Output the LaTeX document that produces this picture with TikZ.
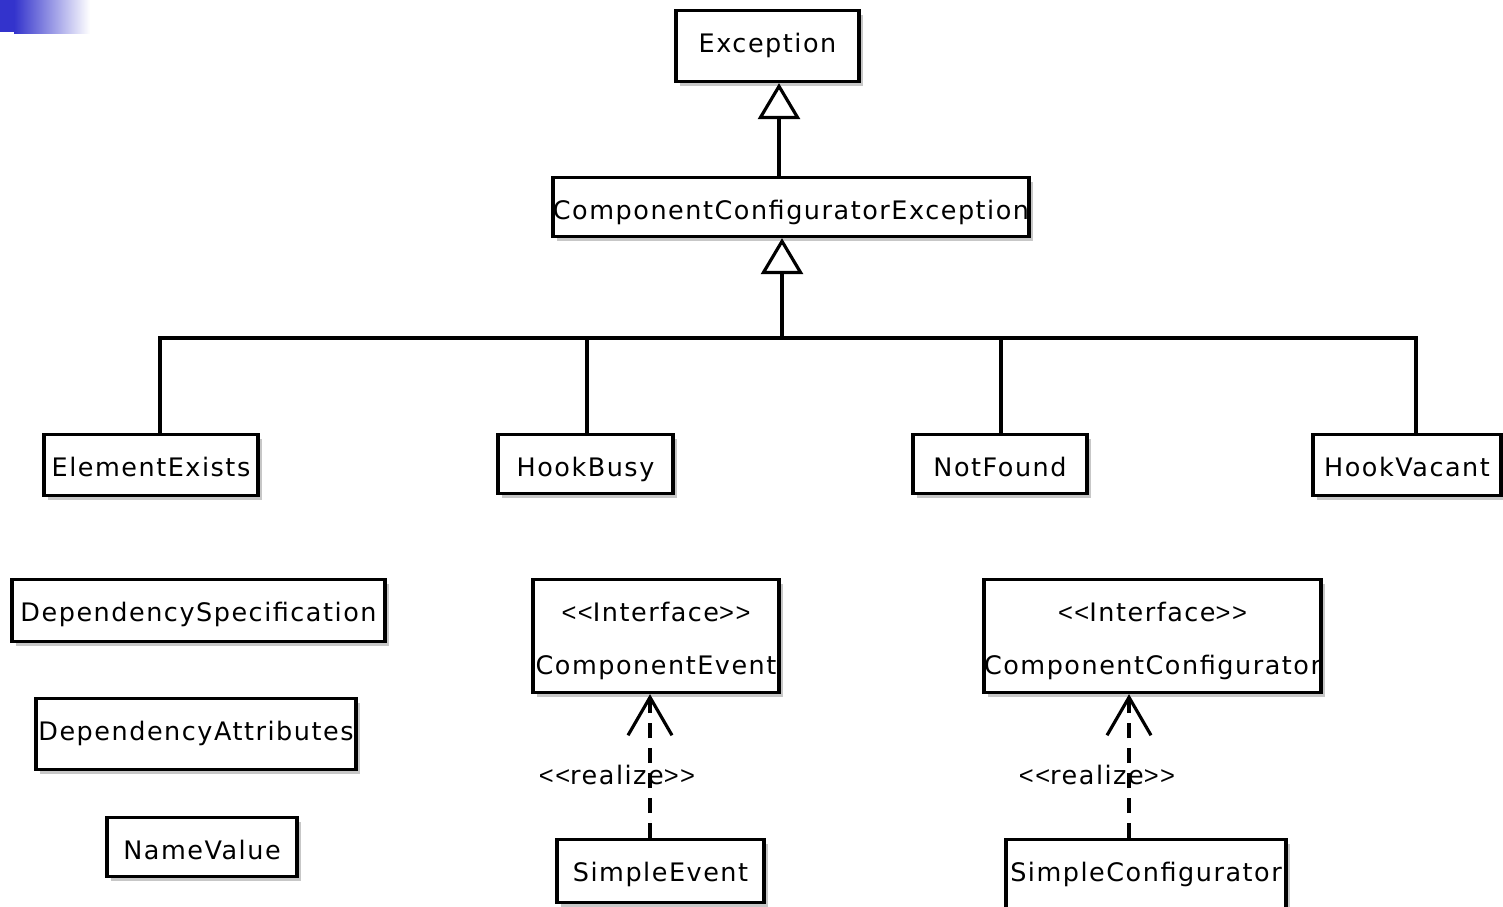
\documentclass[tikz,border=0pt]{standalone}
\usepackage{fontspec}
\newfontfamily\umlfont{DejaVu Sans}[LetterSpace=6]
\newfontfamily\anglefont{Liberation Sans}[LetterSpace=6]
\usetikzlibrary{arrows.meta,shadows}
\definecolor{slideblue}{RGB}{51,51,204}
\newcommand{\stereo}[1]{{\anglefont\textless\textless}#1{\anglefont\textgreater\textgreater}}

\begin{document}
\begin{tikzpicture}[x=0.02cm, y=-0.02cm,
    cls/.style={draw, line width=1.8pt, fill=white, anchor=north, inner xsep=0pt, inner ysep=0pt,
      text height=0.84cm, font=\umlfont\fontsize{14.5}{30}\selectfont,
      drop shadow={shadow xshift=0.08cm, shadow yshift=-0.08cm, fill=black!22, opacity=1}},
    iface/.style={cls, align=center, text height=1.9cm, text depth=0.36cm},
    gen/.style={line width=1.8pt, -{Triangle[open, fill=white, length=0.72cm, width=0.84cm]}},
    real/.style={line width=1.8pt, dash pattern=on 0.3cm off 0.2cm,
      -{Straight Barb[length=0.76cm, width=0.88cm]}},
    stlabel/.style={font=\umlfont\fontsize{14.5}{17}\selectfont, inner sep=0pt}]
  \useasboundingbox (0,0) rectangle (1503,906);

  % slide corner
  \fill[slideblue] (0,0) rectangle (14,32);
  \shade[left color=slideblue, right color=white] (14,0) rectangle (90,33);

  % exception hierarchy
  \node[cls, minimum width=3.66cm, text depth=0.58cm] (exc) at (767.5,9) {Exception};
  \node[cls, minimum width=9.36cm, text depth=0.34cm] (cce) at (791,176) {ComponentConfiguratorException};
  \node[cls, minimum width=4.28cm, text depth=0.38cm] (ee) at (151,433) {ElementExists};
  \node[cls, minimum width=3.5cm, text depth=0.34cm] (hb) at (585.5,433) {HookBusy};
  \node[cls, minimum width=3.48cm, text depth=0.34cm] (nf) at (1000,433) {NotFound};
  \node[cls, minimum width=3.76cm, text depth=0.38cm] (hv) at (1407,433) {HookVacant};

  % plain classes
  \node[cls, minimum width=7.46cm, text depth=0.40cm] (ds) at (198.5,578) {DependencySpecification};
  \node[cls, minimum width=6.4cm, text depth=0.58cm] (da) at (196,697) {DependencyAttributes};
  \node[cls, minimum width=3.8cm, text depth=0.34cm] (nv) at (202,816) {NameValue};

  % interfaces and their realizations
  \node[iface, minimum width=4.92cm] (ce) at (656,578) {\stereo{Interface}\\ComponentEvent};
  \node[iface, minimum width=6.74cm] (cc) at (1152.5,578) {\stereo{Interface}\\ComponentConfigurator};
  \node[cls, minimum width=4.14cm, text depth=0.42cm] (se) at (660.5,838) {SimpleEvent};
  \node[cls, minimum width=5.6cm, text depth=0.9cm] (sc) at (1146,838) {SimpleConfigurator};

  \draw[gen] ([xshift=-0.24cm]cce.north) -- ([xshift=-0.24cm]cce.north |- exc.south);
  \coordinate (bus) at (782,338);
  \draw[gen] (bus) -- (bus |- cce.south);
  \foreach \n/\dx in {ee/0.18, hb/0.03, nf/0.02, hv/0.18}
    \draw[line width=1.8pt] ([xshift=\dx cm]\n.north) |- (bus);

  \draw[real] ([xshift=-0.21cm]se.north) -- node[stlabel, pos=0.44, xshift=-0.66cm] {\stereo{realize}}
    ([xshift=-0.21cm]se.north |- ce.south);
  \draw[real] ([xshift=-0.34cm]sc.north) -- node[stlabel, pos=0.44, xshift=-0.64cm] {\stereo{realize}}
    ([xshift=-0.34cm]sc.north |- cc.south);
\end{tikzpicture}
\end{document}
